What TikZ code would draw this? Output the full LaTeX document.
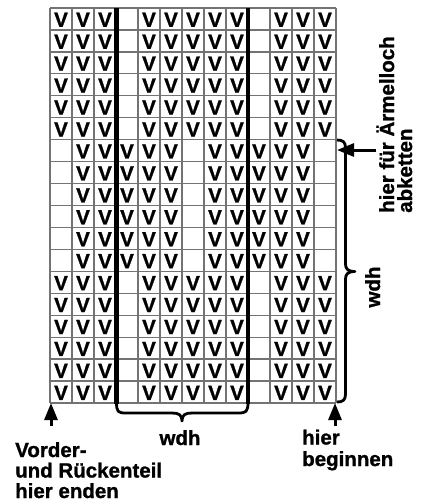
\documentclass[tikz,border=0pt]{standalone}
\usepackage{fontspec}
\setmainfont{Liberation Sans}[BoldFeatures={FakeBold=1.2}]
\usetikzlibrary{arrows.meta,positioning}

\begin{document}
\begin{tikzpicture}[x=1pt,y=-1pt,
    lbl/.style={font=\fontsize{20.5}{20.5}\selectfont\bfseries,inner sep=0pt},
    vv/.style={font=\fontsize{20.5}{20.5}\selectfont\bfseries,inner sep=0pt},
    gridln/.style={draw=black!55,line width=1.3pt},
    heavy/.style={line width=4.2pt},
    brc/.style={line width=2.8pt,line join=round},
    arr/.style={line width=3pt,-{Triangle[length=17pt,width=13pt]}}]
                                \useasboundingbox (0,0) rectangle (425,501);
                                % gitter
                                \foreach \i in {0,...,13}
                                    \draw[gridln] ({50+22*\i},8) -- ({50+22*\i},403);
                                \foreach \j in {0,...,18}
                                    \draw[gridln] (50,{8+21.944*\j}) -- (336,{8+21.944*\j});
                                \coordinate (gsw) at (51,403);
                                \coordinate (gse) at (335,403);
                                % maschen
                                \foreach \r in {1,2,3,4,5,6,13,14,15,16,17,18}
                                    \foreach \c in {1,2,3,5,6,7,8,9,11,12,13}
                                        \node[vv] (v\r-\c) at ({50+22*(\c-0.5)},{8.8+21.944*(\r-0.5)}) {V};
                                \foreach \r in {7,...,12}
                                    \foreach \c in {2,3,4,5,6,8,9,10,11,12}
                                        \node[vv] (v\r-\c) at ({50+22*(\c-0.5)},{8.8+21.944*(\r-0.5)}) {V};
                                % rapport
                                \draw[heavy] (116.5,8) -- (116.5,404);
                                \draw[heavy] (248,8) -- (248,404);
                                \draw[brc] (116.5,402) .. controls (116.5,412) and (118,413) .. (126,413) -- (172,413)
                                    .. controls (179,413) and (182,415) .. (182,421)
                                    .. controls (182,415) and (185,413) .. (192,413) -- (238,413)
                                    .. controls (246,413) and (248,412) .. (248,402);
                                \draw[brc] (337,140) .. controls (343,140) and (345.5,142) .. (345.5,148) -- (345.5,264)
                                    .. controls (345.5,269) and (348,271.5) .. (355,271.5)
                                    .. controls (348,271.5) and (345.5,274) .. (345.5,279) -- (345.5,394)
                                    .. controls (345.5,400) and (343,402) .. (337,402);
                                % texte
                                \node[lbl,anchor=base] (wdhb) at (180,445) {wdh};
                                \node[lbl,rotate=90,anchor=base] (wdhr) at (380,287) {wdh};
                                \node[lbl,anchor=base west,align=left] (endlbl) at (15,498) {Vorder-\\und Rückenteil\\hier enden};
                                \node[lbl,anchor=base west,align=left,font=\fontsize{20.5}{21.5}\selectfont\bfseries] (beglbl) at (302,466) {hier\\beginnen};
                                \node[lbl,rotate=90,anchor=base west,align=left,font=\fontsize{20.5}{18}\selectfont\bfseries] (armlbl) at (412,213) {hier für Ärmelloch\\abketten};
                                % pfeile
                                \coordinate (armtip) at (337,150);
                                \coordinate (endtail) at (51,426);
                                \coordinate (begtail) at (335,426);
                                \draw[arr] (armlbl.north |- armtip) -- (armtip);
                                \draw[arr] (endtail) -- (gsw);
                                \draw[arr] (begtail) -- (gse);
                            \end{tikzpicture}
\end{document}
